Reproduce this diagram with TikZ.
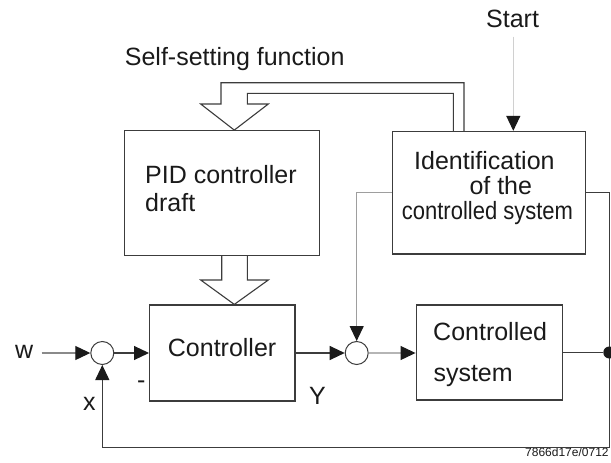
\documentclass[tikz,border=0pt]{standalone}
\usepackage{fontspec}
\setmainfont{Liberation Sans}
\usepackage{graphicx}
\usetikzlibrary{arrows.meta,calc}
\definecolor{ink}{HTML}{1A1A1A}
\definecolor{edge}{HTML}{3C3C3C}
\definecolor{vlgray}{HTML}{D0D0D0}
\definecolor{wgray}{HTML}{8A8A8A}
\definecolor{mgray}{HTML}{9E9E9E}
\definecolor{lgray}{HTML}{B5B5B5}
\begin{document}
\begin{tikzpicture}[x=1pt,y=-1pt,
  box/.style={draw=edge,line width=1.2pt,inner sep=0pt,rectangle},
  sumnode/.style={draw=edge,line width=1pt,circle,inner sep=0pt,minimum size=23pt,fill=white},
  lbl/.style={font=\fontsize{25}{30}\selectfont,text=ink,inner sep=0pt,anchor=base west},
  wire/.style={draw=edge,line width=1.1pt},
  sig/.style={wire,-{Triangle[length=15pt,width=14pt,color=ink]}},
  hollow/.style={draw=edge,line width=1.1pt,line join=miter}]
\useasboundingbox[fill=white] (0,0) rectangle (611,463);

% boxes
\node[box,minimum width=195pt,minimum height=124.6pt] (pid) at (222.2,193) {};
\node[box,minimum width=193.3pt,minimum height=122.5pt] (ident) at (489,192.7) {};
\node[box,minimum width=145.4pt,minimum height=96pt] (ctrl) at (222.3,353) {};
\node[box,minimum width=146.3pt,minimum height=95pt] (plant) at (489.3,352.5) {};
\node[sumnode] (sum1) at (102.3,353) {};
\node[sumnode] (sum2) at (356.7,353) {};

% texts
\node[lbl] (tstart) at (486,27.7) {Start};
\node[lbl] (tself) at (124.7,65) {Self-setting function};
\node[lbl] (tpid1) at (145,183.5) {PID controller};
\node[lbl] (tpid2) at (145,211.7) {draft};
\node[lbl] (tid1) at (414,169.5) {Identification};
\node[lbl] (tid2) at (469.3,194) {of the};
\node[lbl] (tid3) at (401.7,219) {\scalebox{0.88}[1]{controlled system}};
\node[lbl] (tctrl) at (167.7,356) {Controller};
\node[lbl] (tpl1) at (433,340.7) {Controlled};
\node[lbl] (tpl2) at (433.3,381.7) {system};
\node[lbl] (tw) at (15,358) {w};
\node[lbl] (tminus) at (137,388) {-};
\node[lbl] (tx) at (83,410.7) {x};
\node[lbl] (tY) at (309,404.3) {Y};
\node[lbl,font=\fontsize{12}{14}\selectfont] (tfoot) at (525,456.7) {7866d17e/0712};

% coordinates
\coordinate (wstart) at (41.7,353);
\coordinate (s0) at (513.3,36.7);
\coordinate (br) at (609.3,447.3);

% hollow arrows
\draw[hollow] (464,0 |- ident.north) -- (464,82.7) -- (221,82.7) -- (221,104)
  -- (200.7,104) -- (234.3,0 |- pid.north) -- (268.3,104) -- (247.3,104)
  -- (247.3,93.3) -- (453.3,93.3) -- (453.3,0 |- ident.north);
\draw[hollow] (221.7,0 |- pid.south) -- (221.7,280) -- (200.7,280)
  -- (234.3,0 |- ctrl.north) -- (268.3,280) -- (247.3,280) -- (247.3,0 |- pid.south);

% signal connectors
\draw[sig,draw=wgray] (wstart) -- (sum1);
\draw[sig] (sum1) -- (ctrl);
\draw[sig] (ctrl) -- (sum2);
\draw[sig,draw=lgray] (sum2.east) -- (sum2.east -| plant.west);
\draw[sig,draw=mgray] (ident.west) -| (sum2.north);
\draw[sig,draw=vlgray] (s0) -- (s0 |- ident.north);
\draw[sig] (ident.east) -| (br) -| (sum1.south);
\node[circle,fill=ink,inner sep=0pt,minimum size=12pt] (dot) at (plant.east -| br) {};
\draw[wire] (plant.east) -- (dot);
\end{tikzpicture}
\end{document}
